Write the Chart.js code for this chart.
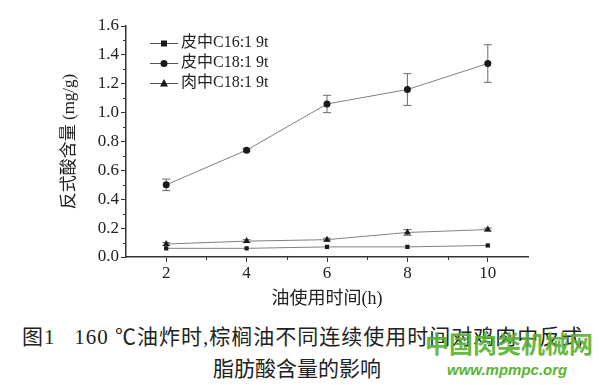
<!DOCTYPE html>
<html>
<head>
<meta charset="utf-8">
<script src="https://cdn.jsdelivr.net/npm/chart.js@4.4.0/dist/chart.umd.min.js"></script>
<style>
  html, body { margin: 0; padding: 0; background: #fff; }
  #wrap { position: relative; width: 600px; height: 385px; overflow: hidden; }
  #chart { position: absolute; left: 0; top: 0; }
  .cap { position: absolute; font-family: "Liberation Serif", "Noto Sans CJK SC", serif; font-size: 21px; color: #222; white-space: nowrap; }
  .wm { position: absolute; font-family: "Noto Sans CJK SC", sans-serif; color: #5cb232; white-space: nowrap; font-weight: bold; }
</style>
</head>
<body>
<div id="wrap">
  <canvas id="chart" width="600" height="312"></canvas>
  <div class="cap" style="left:22px; top:320px; letter-spacing:1px;">图1&nbsp;&nbsp;&nbsp;160 ℃油炸时,棕榈油不同连续使用时间对鸡肉中反式</div>
  <div class="cap" style="left:213px; top:352px;">脂肪酸含量的影响</div>
  <div class="wm" style="left:425px; top:325px; font-size:24px; opacity:0.92;">中国肉类机械网</div>
  <div class="wm" style="left:447px; top:361px; font-size:15px; font-style:italic; font-family:'Liberation Sans', sans-serif;">www.mpmpc.org</div>
</div>
<script>
(function () {

  // data
  var hours = [2, 4, 6, 8, 10];
  var skinC16 = [0.06, 0.06, 0.07, 0.07, 0.08];
  var skinC16Err = [0, 0, 0, 0, 0];
  var skinC18 = [0.50, 0.74, 1.06, 1.16, 1.34];
  var skinC18Err = [0.04, 0.01, 0.06, 0.11, 0.13];
  var meatC18 = [0.09, 0.11, 0.12, 0.17, 0.19];
  var meatC18Err = [0.01, 0.01, 0.01, 0.02, 0.01];
  var labels = ['皮中C16:1 9t', '皮中C18:1 9t', '肉中C18:1 9t'];
  var yTicks = [0, 0.2, 0.4, 0.6, 0.8, 1.0, 1.2, 1.4, 1.6];
  var yMinor = [0.1, 0.3, 0.5, 0.7, 0.9, 1.1, 1.3, 1.5];
  var xMinor = [3, 5, 7, 9];

  var serif = '"Liberation Serif", "Noto Sans CJK SC", serif';
  var ctx = document.getElementById('chart').getContext('2d');

  var toPoints = function (vals) {
    return vals.map(function (v, i) { return { x: hours[i], y: v }; });
  };

  var makeSet = function (label, vals, errs, style, radius) {
    return {
      label: label,
      data: toPoints(vals),
      errors: errs,
      borderColor: '#808080',
      borderWidth: 1,
      backgroundColor: '#1a1a1a',
      pointBackgroundColor: '#1a1a1a',
      pointBorderColor: '#1a1a1a',
      pointBorderWidth: 0,
      pointStyle: style,
      pointRadius: radius,
      tension: 0,
      fill: false
    };
  };

  var errorBars = {
    id: 'errorBars',
    beforeDatasetsDraw: function (chart) {
      var c = chart.ctx, ys = chart.scales.y, xs = chart.scales.x;
      c.save();
      c.strokeStyle = '#6a6a6a';
      c.lineWidth = 1;
      chart.data.datasets.forEach(function (ds) {
        ds.data.forEach(function (p, i) {
          var e = ds.errors[i];
          if (!e) return;
          var px = xs.getPixelForValue(p.x);
          var top = ys.getPixelForValue(p.y + e);
          var bot = ys.getPixelForValue(p.y - e);
          c.beginPath();
          c.moveTo(px, top); c.lineTo(px, bot);
          c.moveTo(px - 4, top); c.lineTo(px + 4, top);
          c.moveTo(px - 4, bot); c.lineTo(px + 4, bot);
          c.stroke();
        });
      });
      c.restore();
    }
  };

  var minorTicks = {
    id: 'minorTicks',
    afterDraw: function (chart) {
      var c = chart.ctx, ys = chart.scales.y, xs = chart.scales.x;
      var a = chart.chartArea;
      c.save();
      c.strokeStyle = '#333';
      c.lineWidth = 1;
      c.beginPath();
      yMinor.forEach(function (v) {
        var py = Math.round(ys.getPixelForValue(v)) + 0.5;
        c.moveTo(a.left - 3, py); c.lineTo(a.left, py);
      });
      xMinor.forEach(function (v) {
        var px = Math.round(xs.getPixelForValue(v)) + 0.5;
        c.moveTo(px, a.bottom); c.lineTo(px, a.bottom + 3);
      });
      c.stroke();
      c.restore();
    }
  };

  var drawMarker = function (c, style, x, y, r) {
    c.beginPath();
    if (style === 'rect') {
      c.rect(x - r, y - r, 2 * r, 2 * r);
    } else if (style === 'triangle') {
      c.moveTo(x, y - r * 1.15);
      c.lineTo(x + r, y + r * 0.75);
      c.lineTo(x - r, y + r * 0.75);
      c.closePath();
    } else {
      c.arc(x, y, r, 0, Math.PI * 2);
    }
    c.fill();
  };

  var lineLegend = {
    id: 'lineLegend',
    afterDraw: function (chart) {
      var c = chart.ctx;
      c.save();
      c.font = '16px ' + serif;
      c.textBaseline = 'middle';
      chart.data.datasets.forEach(function (ds, i) {
        var y = 43 + i * 20;
        c.strokeStyle = '#555';
        c.lineWidth = 1;
        c.beginPath();
        c.moveTo(150, y + 0.5); c.lineTo(178, y + 0.5);
        c.stroke();
        c.fillStyle = '#1a1a1a';
        drawMarker(c, ds.pointStyle, 164, y + 0.5, ds.pointRadius);
        c.fillStyle = '#222';
        c.fillText(ds.label, 181, y);
      });
      c.restore();
    }
  };

  new Chart(ctx, {
    type: 'line',
    data: {
      datasets: [
        makeSet(labels[0], skinC16, skinC16Err, 'rect', 3),
        makeSet(labels[1], skinC18, skinC18Err, 'circle', 3.5),
        makeSet(labels[2], meatC18, meatC18Err, 'triangle', 4)
      ]
    },
    options: {
      responsive: false,
      animation: false,
      layout: { padding: { top: 26, right: 72, left: 0, bottom: 0 } },
      plugins: {
        legend: { display: false },
        tooltip: { enabled: false }
      },
      scales: {
        x: {
          type: 'linear',
          min: 1,
          max: 11,
          afterBuildTicks: function (s) {
            s.ticks = hours.map(function (v) { return { value: v }; });
          },
          afterFit: function (s) { s.height = 55; },
          grid: { drawOnChartArea: false, drawTicks: true, tickLength: 5, color: '#333' },
          border: { display: true, color: '#333', width: 1.5 },
          ticks: { color: '#222', font: { family: serif, size: 17 }, padding: 1, maxRotation: 0 },
          title: {
            display: true,
            text: '油使用时间(h)',
            color: '#222',
            font: { family: serif, size: 18 },
            padding: { top: 0, bottom: 2 }
          }
        },
        y: {
          min: 0,
          max: 1.6,
          afterBuildTicks: function (s) {
            s.ticks = yTicks.map(function (v) { return { value: v }; });
          },
          afterFit: function (s) { s.width = 126; },
          grid: { drawOnChartArea: false, drawTicks: true, tickLength: 5, color: '#333' },
          border: { display: true, color: '#333', width: 1.5 },
          ticks: {
            color: '#222',
            font: { family: serif, size: 17 },
            padding: 2,
            callback: function (v) { return Number(v).toFixed(1); }
          },
          title: {
            display: true,
            text: '反式酸含量 (mg/g)',
            color: '#222',
            font: { family: serif, size: 17 },
            padding: { top: 59, bottom: 0 }
          }
        }
      }
    },
    plugins: [errorBars, minorTicks, lineLegend]
  });

})();
</script>
</body>
</html>
